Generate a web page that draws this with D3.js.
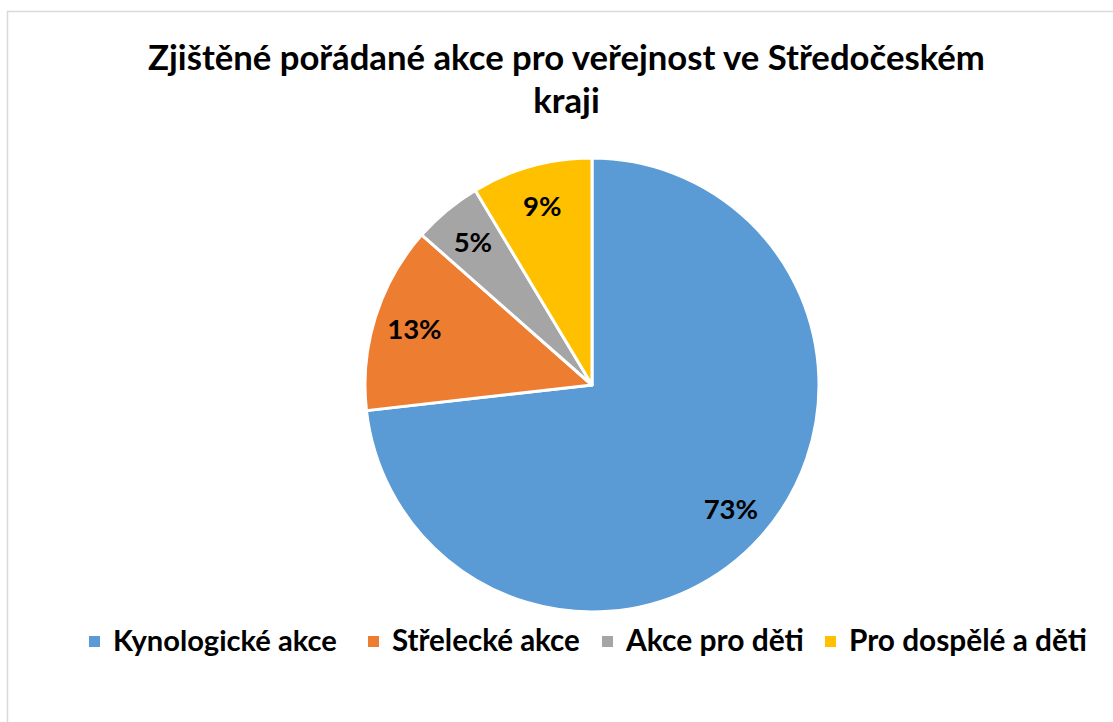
<!DOCTYPE html>
<html><head><meta charset="utf-8">
<script src="https://cdn.jsdelivr.net/npm/d3@7"></script>
<style>body{margin:0;background:#fff}svg{display:block}</style>
</head><body>
<svg id="c" width="1113" height="722"></svg>
<script>
const categories = ["Kynologické akce", "Střelecké akce", "Akce pro děti", "Pro dospělé a děti"];
const values = [73.2, 13.3, 4.9, 8.6];
const labels = ["73%", "13%", "5%", "9%"];
const colors = ["#5B9BD5", "#ED7D31", "#A5A5A5", "#FFC000"];
const titleLines = ["Zjištěné pořádané akce pro veřejnost ve Středočeském", "kraji"];

const svg = d3.select("#c");
const FONT = "Lato, 'Open Sans', sans-serif";

svg.append("rect").attr("x", 7.5).attr("y", 11.5).attr("width", 1200).attr("height", 800)
  .attr("fill", "#fff").attr("stroke", "#d9d9d9").attr("stroke-width", 1.5);

function fit(sel, target) {
  const w = sel.node().getComputedTextLength();
  const fs = parseFloat(sel.attr("font-size"));
  sel.attr("font-size", fs * target / w);
}

// title
const t1 = svg.append("text").attr("x", 566.5).attr("y", 70).attr("text-anchor", "middle")
  .attr("font-family", FONT).attr("font-weight", "bold").attr("font-size", 30).attr("fill", "#000").text(titleLines[0]);
fit(t1, 837);
svg.append("text").attr("x", 566.5).attr("y", 113).attr("text-anchor", "middle")
  .attr("font-family", FONT).attr("font-weight", "bold").attr("font-size", t1.attr("font-size")).attr("fill", "#000").text(titleLines[1]);

// pie
const cx = 592, cy = 385, r = 227;
const pie = d3.pie().sort(null).value(d => d)(values);
const arc = d3.arc().innerRadius(0).outerRadius(r);
const labelArc = d3.arc().innerRadius(r * 0.82).outerRadius(r * 0.82);
const g = svg.append("g").attr("transform", `translate(${cx},${cy})`);
g.selectAll("path").data(pie).join("path")
  .attr("d", arc).attr("fill", (d, i) => colors[i])
  .attr("stroke", "#fff").attr("stroke-width", 3).attr("stroke-linejoin", "round");
g.selectAll("text").data(pie).join("text")
  .attr("transform", d => `translate(${labelArc.centroid(d)})`)
  .attr("text-anchor", "middle").attr("dy", "0.36em")
  .attr("font-family", FONT).attr("font-weight", "bold").attr("font-size", 27.5).attr("fill", "#000")
  .text((d, i) => labels[i]);

// legend
const legendX = [89, 368, 602, 825];
const legendW = [224, 188, 178, 238];
const lg = svg.append("g");
categories.forEach((c, i) => {
  lg.append("rect").attr("x", legendX[i]).attr("y", 636).attr("width", 11).attr("height", 11).attr("fill", colors[i]);
  const t = lg.append("text").attr("x", legendX[i] + 24).attr("y", 651)
    .attr("font-family", FONT).attr("font-weight", "bold").attr("font-size", 24).attr("fill", "#000").text(c);
  fit(t, legendW[i]);
});
</script>
</body></html>
